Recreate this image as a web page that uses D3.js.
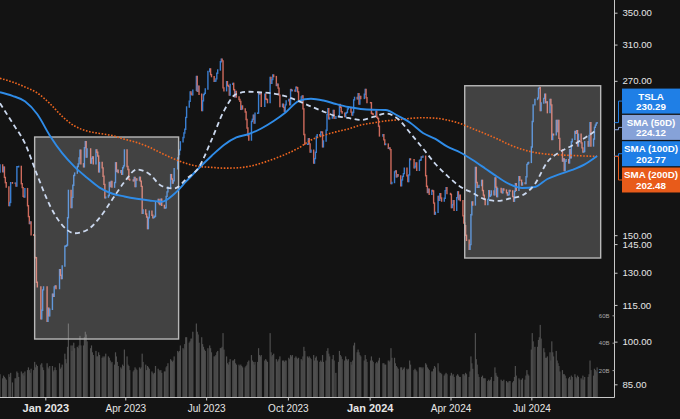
<!DOCTYPE html>
<html>
<head>
<meta charset="utf-8">
<script src="https://cdn.jsdelivr.net/npm/d3@7"></script>
<style>
  html, body { margin: 0; padding: 0; background: #131313; }
  svg { display: block; font-family: "Liberation Sans", Arial, sans-serif; }
</style>
</head>
<body>
<div id="chart"></div>
<script>
// TSLA daily closes, 2022-11-10 .. 2024-09-13 (one row per month)
const closes = [
  190.7,196.0,191.0,194.4,186.9,183.2,180.2,167.9,169.9,183.2,182.9,182.9,180.8,194.7,
  194.7,194.9,182.5,179.8,174.0,173.4,179.1,167.8,161.0,156.8,157.7,150.2,149.9,137.8,137.6,125.4,123.2,109.1,112.7,121.8,123.2,
  108.1,113.6,110.3,113.1,119.8,118.9,123.2,123.6,122.4,131.5,128.8,127.2,133.4,143.8,143.9,144.4,160.3,177.9,166.7,173.2,
  181.4,188.3,190.0,194.8,196.8,201.3,207.3,196.9,194.6,209.3,214.2,202.0,208.3,197.4,200.9,202.1,196.9,207.6,205.7,
  202.8,190.9,197.8,193.8,187.7,182.0,172.9,173.4,174.5,183.3,180.5,184.1,180.1,183.3,197.6,191.2,192.2,190.4,191.8,189.2,193.9,195.3,207.5,
  194.8,192.6,185.5,185.1,184.5,186.8,180.5,185.9,185.0,187.0,184.3,180.6,163.0,165.1,162.6,160.7,153.8,160.2,164.3,
  161.8,160.3,160.6,161.2,170.1,171.8,169.2,168.5,172.1,168.0,166.4,166.5,173.9,176.9,180.1,188.9,185.8,182.9,184.5,193.2,201.2,203.9,
  207.5,214.0,217.6,221.3,224.6,234.9,244.4,249.8,258.7,256.8,255.9,260.5,274.5,259.5,264.6,256.6,241.1,250.2,256.2,257.5,261.8,
  279.8,282.5,276.5,274.4,269.6,269.8,272.0,277.9,281.4,290.4,293.3,291.3,262.9,260.0,269.1,265.3,264.4,255.7,266.4,267.4,
  261.1,254.1,259.3,253.9,251.5,249.7,242.2,245.3,242.7,239.8,233.0,225.6,219.2,215.5,231.3,233.2,236.9,230.0,238.6,238.8,257.2,256.9,258.1,
  245.0,256.5,251.9,251.5,248.5,273.6,267.5,271.3,276.0,274.4,265.3,266.5,262.6,255.7,244.9,247.0,244.1,240.5,246.4,250.2,
  251.6,246.5,261.2,260.1,260.5,259.7,263.6,263.0,258.9,251.1,253.9,254.9,242.7,220.1,212.0,212.1,216.5,212.4,205.8,207.3,197.4,200.8,
  205.7,218.5,220.0,219.3,222.2,222.1,210.0,214.7,223.7,237.4,242.8,233.6,234.3,235.6,241.2,234.2,235.5,236.1,246.7,244.1,240.1,
  238.8,235.6,238.7,239.4,242.6,243.8,239.7,237.0,239.3,251.1,253.5,252.1,257.2,247.1,254.5,252.5,256.6,261.4,253.2,248.5,
  248.4,238.5,237.9,237.5,240.5,235.0,233.9,227.2,218.9,219.9,215.6,211.9,212.2,208.8,209.1,207.8,182.6,183.3,190.9,191.6,187.3,
  188.9,187.9,181.1,185.1,187.6,189.6,193.6,188.1,184.0,188.7,200.5,200.0,193.8,194.8,197.4,192.0,199.4,199.7,202.0,201.9,
  202.6,188.1,180.7,176.5,178.7,175.3,177.8,177.5,169.5,162.5,163.6,173.8,171.3,175.7,172.8,170.8,172.6,177.7,179.8,175.8,
  175.2,166.6,168.4,171.1,164.9,173.0,176.9,171.8,174.6,171.1,161.5,157.1,155.5,149.9,147.1,142.1,144.7,162.1,170.2,168.3,194.1,183.3,
  180.0,180.0,181.2,184.8,177.8,174.7,172.0,168.5,171.9,177.6,174.0,174.8,177.5,175.0,186.6,180.1,173.7,179.2,176.8,176.2,178.8,178.1,
  176.3,174.8,175.0,177.9,177.5,173.8,170.7,177.3,182.5,178.0,187.4,184.9,181.6,183.0,182.6,187.4,196.4,197.4,197.9,
  209.9,231.3,246.4,251.5,252.9,262.3,263.3,241.0,248.2,252.6,256.6,248.5,249.2,239.2,251.5,246.4,216.0,220.3,219.8,232.1,222.6,232.1,
  216.9,207.7,198.9,200.6,191.8,198.8,200.0,197.5,207.8,201.4,214.1,216.1,222.7,221.1,223.3,210.7,220.3,213.2,209.2,205.8,206.3,214.1,
  210.6,219.4,230.2,210.7,216.3,226.2,228.1,229.8,230.3
];

// daily traded value, billions (same rows)
const volumes = [
  20,17,14,16,15,14,13,17,15,18,11,14,14,19,
  18,15,19,17,18,16,19,20,22,20,18,21,20,26,22,24,23,24,25,22,20,
  25,22,21,23,23,19,20,22,20,25,21,22,24,32,28,25,37,54,38,34,
  38,40,36,37,36,38,45,38,38,44,48,46,41,36,38,33,31,34,30,
  30,33,31,29,30,29,30,32,30,29,27,25,26,24,33,30,26,23,22,21,24,23,35,
  30,24,23,20,19,20,22,21,20,22,21,22,32,26,24,20,23,22,21,
  19,18,17,18,23,21,20,19,20,18,19,19,22,23,25,28,27,26,27,30,34,33,
  34,38,36,35,39,44,44,40,41,43,43,48,54,48,46,40,44,39,37,35,34,
  36,38,36,33,30,30,31,33,34,36,36,37,47,35,30,25,24,26,28,27,
  27,28,25,24,24,23,24,23,22,22,23,24,26,27,31,27,26,24,26,26,36,31,30,
  31,27,28,27,26,47,33,30,31,32,28,26,27,28,30,27,27,26,27,27,
  29,28,31,30,31,29,30,29,28,29,28,27,30,37,34,30,29,30,29,28,31,27,
  29,30,27,26,27,26,31,26,27,34,36,32,30,28,31,27,18,26,34,31,30,
  28,27,30,28,27,28,26,24,27,38,40,33,35,33,31,30,27,31,28,26,
  27,30,27,26,25,26,25,27,29,25,25,24,24,27,26,27,36,29,29,25,23,
  22,21,22,22,20,21,22,21,20,21,27,24,20,21,20,19,22,22,22,21,
  22,25,24,22,21,20,19,19,21,23,22,25,19,18,18,17,16,17,18,17,
  16,18,16,17,15,16,17,16,15,15,17,17,16,18,17,15,19,30,25,21,47,28,
  24,17,15,15,16,14,14,14,12,13,12,13,15,12,22,18,16,15,13,12,12,13,
  12,11,11,12,12,11,12,15,23,16,14,13,13,14,13,16,20,17,16,
  35,47,41,37,37,42,44,53,43,36,33,29,29,30,33,27,41,33,30,34,27,25,
  23,19,20,17,17,16,14,14,15,13,16,15,17,15,14,16,15,14,13,16,13,15,
  15,17,27,20,16,21,20,19,22
];

const firstDay = '2022-11-10';
const holidays = [
  '2022-11-24','2022-12-26','2023-01-02','2023-01-16','2023-02-20','2023-04-07','2023-05-29',
  '2023-06-19','2023-07-04','2023-09-04','2023-11-23','2023-12-25','2024-01-01','2024-01-15',
  '2024-02-19','2024-03-29','2024-05-27','2024-06-19','2024-07-04','2024-09-02'
];

// moving averages every two weeks
const smaDates = [
  '2022-11-11','2022-11-25','2022-12-09','2022-12-23','2023-01-06','2023-01-20','2023-02-03',
  '2023-02-17','2023-03-03','2023-03-17','2023-03-31','2023-04-14','2023-04-28','2023-05-12',
  '2023-05-26','2023-06-09','2023-06-23','2023-07-07','2023-07-21','2023-08-04','2023-08-18',
  '2023-09-01','2023-09-15','2023-09-29','2023-10-13','2023-10-27','2023-11-10','2023-11-24',
  '2023-12-08','2023-12-22','2024-01-05','2024-01-19','2024-02-02','2024-02-16','2024-03-01',
  '2024-03-15','2024-03-28','2024-04-12','2024-04-26','2024-05-10','2024-05-24','2024-06-07',
  '2024-06-21','2024-07-05','2024-07-19','2024-08-02','2024-08-16','2024-08-30','2024-09-13'
];
const sma50 = [
  247.9,230.0,212.9,188.4,168.1,155.9,151.1,153.0,160.2,171.5,183.7,192.6,189.4,180.9,
  179.2,186.0,194.5,215.5,240.7,256.8,259.0,258.3,257.3,254.4,250.0,244.9,240.2,236.2,
  234.4,232.6,235.3,238.4,233.5,221.0,208.7,196.7,188.3,180.4,176.2,171.9,170.9,172.5,
  174.6,182.3,198.2,205.9,211.1,217.2,224.1
];
const sma100 = [
  258.5,255.0,249.7,237.7,219.3,205.0,194.6,186.7,179.8,175.8,173.8,172.3,171.2,170.4,
  175.5,184.4,193.7,202.8,211.5,217.6,220.5,225.2,231.7,239.8,250.0,252.2,250.5,247.2,
  244.4,242.6,241.8,241.6,236.2,230.0,221.4,216.4,210.3,205.5,199.7,193.4,187.2,182.0,
  179.5,180.2,185.8,189.2,192.3,196.4,202.8
];
const sma200 = [
  272.6,268.8,263.8,257.8,247.7,235.8,227.3,223.0,221.0,219.3,216.2,213.5,209.7,204.9,
  200.5,197.0,194.9,194.2,193.6,193.8,194.9,197.3,200.5,204.3,209.0,215.5,219.3,222.3,
  224.8,228.2,230.0,231.8,232.8,234.0,234.6,234.2,232.6,229.4,225.0,220.8,216.3,211.5,
  207.9,205.5,204.2,203.6,203.2,202.8,202.5
];

const priceTicks = [350, 310, 270, 150, 145, 130, 115, 100, 85];
const volumeTicks = [20, 40, 60];
const dateTicks = ['2023-01-01','2023-04-01','2023-07-01','2023-10-01','2024-01-01','2024-04-01','2024-07-01'];

// shaded ranges: [start, end, low, high]
const highlightStarts = ['2022-12-20', '2024-04-17'];
const highlightEnds = ['2023-05-31', '2024-09-17'];
const highlightLows = [101, 137.5];
const highlightHighs = [218, 265];

const tagNames = ['TSLA', 'SMA (50D)', 'SMA (100D)', 'SMA (200D)'];
const tagValues = [230.29, 224.12, 202.77, 202.48];

// ---------------------------------------------------------------
const W = 680, H = 419;
const plotRight = 614, plotBottom = 397.5;

const parseDay = d3.utcParse('%Y-%m-%d');
const fmtDay = d3.utcFormat('%Y-%m-%d');
const holidaySet = new Set(holidays);

const tradingDays = d3.utcDay.range(parseDay(firstDay), parseDay('2024-12-31'))
  .filter(d => d.getUTCDay() !== 0 && d.getUTCDay() !== 6 && !holidaySet.has(fmtDay(d)));

const n = Math.min(closes.length, volumes.length);
const bars = d3.range(n).map(i => ({
  date: tradingDays[i],
  close: closes[i],
  prev: i ? closes[i - 1] : closes[i],
  volume: volumes[i]
}));

const x = d3.scaleUtc()
  .domain([parseDay('2022-11-11'), parseDay('2024-10-02')])
  .range([0, plotRight]);

const y = d3.scaleLog()
  .domain([85, 350])
  .range([384.3, 12.7]);

const yVol = d3.scaleLinear()
  .domain([0, 60])
  .range([plotBottom, 315.3]);

const svg = d3.select('#chart').append('svg')
  .attr('width', W)
  .attr('height', H)
  .style('background', '#131313');

svg.append('clipPath').attr('id', 'plot-clip')
  .append('rect')
  .attr('x', 0).attr('y', 0)
  .attr('width', plotRight).attr('height', plotBottom);

const plot = svg.append('g').attr('clip-path', 'url(#plot-clip)');

// volume
plot.append('g')
  .selectAll('rect')
  .data(bars)
  .enter().append('rect')
  .attr('x', d => x(d.date) - 0.6)
  .attr('width', 1.2)
  .attr('y', d => yVol(d.volume))
  .attr('height', d => plotBottom - yVol(d.volume))
  .attr('fill', '#4f4f4f');

// price bars, close to close
plot.append('g')
  .selectAll('line')
  .data(bars.slice(1))
  .enter().append('line')
  .attr('x1', d => x(d.date))
  .attr('x2', d => x(d.date))
  .attr('y1', d => y(d.prev))
  .attr('y2', d => y(d.close))
  .attr('stroke', d => d.close >= d.prev ? '#3a7fd2' : '#cf6b5d')
  .attr('stroke-width', 1.4)
  .attr('stroke-linecap', 'square');

// highlight boxes
plot.append('g')
  .selectAll('rect')
  .data(highlightStarts.map((s, i) => ({
    start: parseDay(s), end: parseDay(highlightEnds[i]),
    low: highlightLows[i], high: highlightHighs[i]
  })))
  .enter().append('rect')
  .attr('x', d => x(d.start))
  .attr('width', d => x(d.end) - x(d.start))
  .attr('y', d => y(d.high))
  .attr('height', d => y(d.low) - y(d.high))
  .attr('fill', 'rgba(255,255,255,0.2)')
  .attr('stroke', '#b8b8b8')
  .attr('stroke-width', 1.4);

// moving averages
const smaSeries = [
  { values: sma200, color: '#f0661f', width: 1.6, dash: '1.6,1.6' },
  { values: sma100, color: '#2f8ce8', width: 1.9, dash: null },
  { values: sma50, color: '#cbd8ee', width: 1.8, dash: '5,3.5' }
];

const smaLine = d3.line()
  .x(d => x(d.date))
  .y(d => y(d.value))
  .curve(d3.curveMonotoneX);

smaSeries.forEach(s => {
  plot.append('path')
    .datum(smaDates.map((t, i) => ({ date: parseDay(t), value: s.values[i] })))
    .attr('fill', 'none')
    .attr('stroke', s.color)
    .attr('stroke-width', s.width)
    .attr('stroke-dasharray', s.dash)
    .attr('d', smaLine);
});

// axis lines
svg.append('line')
  .attr('x1', 0).attr('x2', plotRight + 0.5)
  .attr('y1', plotBottom).attr('y2', plotBottom)
  .attr('stroke', '#c8c8c8');
svg.append('line')
  .attr('x1', plotRight + 0.5).attr('x2', plotRight + 0.5)
  .attr('y1', 0).attr('y2', plotBottom)
  .attr('stroke', '#c8c8c8');

// price axis
const yAxis = svg.append('g')
  .attr('transform', `translate(${plotRight + 0.5},0)`)
  .call(d3.axisRight(y).tickValues(priceTicks).tickFormat(d3.format('.2f')).tickSize(3).tickPadding(5));
yAxis.select('.domain').remove();
yAxis.selectAll('line').attr('stroke', '#c8c8c8');
yAxis.selectAll('text')
  .attr('fill', '#e6e6e6')
  .style('font-size', '9.6px');

// volume axis
const vAxis = svg.append('g')
  .attr('transform', `translate(${plotRight + 0.5},0)`)
  .call(d3.axisLeft(yVol).tickValues(volumeTicks).tickFormat(d => d + 'B').tickSize(2).tickPadding(3));
vAxis.select('.domain').remove();
vAxis.selectAll('line').attr('stroke', '#9a9a9a');
vAxis.selectAll('text')
  .attr('fill', '#a8a8a8')
  .style('font-size', '6px');

// date axis
const xAxis = svg.append('g')
  .attr('transform', `translate(0,${plotBottom})`)
  .call(d3.axisBottom(x)
    .tickValues(dateTicks.map(parseDay))
    .tickFormat(d3.utcFormat('%b %Y'))
    .tickSize(3).tickPadding(4));
xAxis.select('.domain').remove();
xAxis.selectAll('line').attr('stroke', '#c8c8c8');
xAxis.selectAll('text')
  .attr('fill', '#e6e6e6')
  .style('font-size', d => d.getUTCMonth() === 0 ? '11px' : '10px')
  .style('font-weight', d => d.getUTCMonth() === 0 ? 'bold' : 'normal');

// last value tags, stacked around their prices
const tagColors = ['#1f7fe6', '#86a2d8', '#1f7fe6', '#e85b1a'];
const pitch = 26.3, boxH = 25;
const ideal = tagValues.map(v => y(v));
const top0 = d3.mean(ideal) - pitch * tagValues.length / 2;

const tags = svg.append('g');
tagValues.forEach((v, i) => {
  const top = top0 + i * pitch;
  tags.append('path')
    .attr('d', `M${plotRight + 0.5},${ideal[i]}H${plotRight + 4.5}V${top + boxH / 2}H622`)
    .attr('fill', 'none')
    .attr('stroke', tagColors[i])
    .attr('stroke-width', 1);
  tags.append('rect')
    .attr('x', 622).attr('y', top)
    .attr('width', 64).attr('height', boxH)
    .attr('fill', tagColors[i]);
  tags.append('text')
    .attr('x', 651).attr('y', top + 11)
    .attr('text-anchor', 'middle')
    .attr('fill', '#fff')
    .style('font-size', '9.8px')
    .style('font-weight', 'bold')
    .text(tagNames[i]);
  tags.append('text')
    .attr('x', 651).attr('y', top + 21.5)
    .attr('text-anchor', 'middle')
    .attr('fill', '#fff')
    .style('font-size', '9.8px')
    .style('font-weight', 'bold')
    .text(d3.format('.2f')(v));
});
</script>
</body>
</html>
